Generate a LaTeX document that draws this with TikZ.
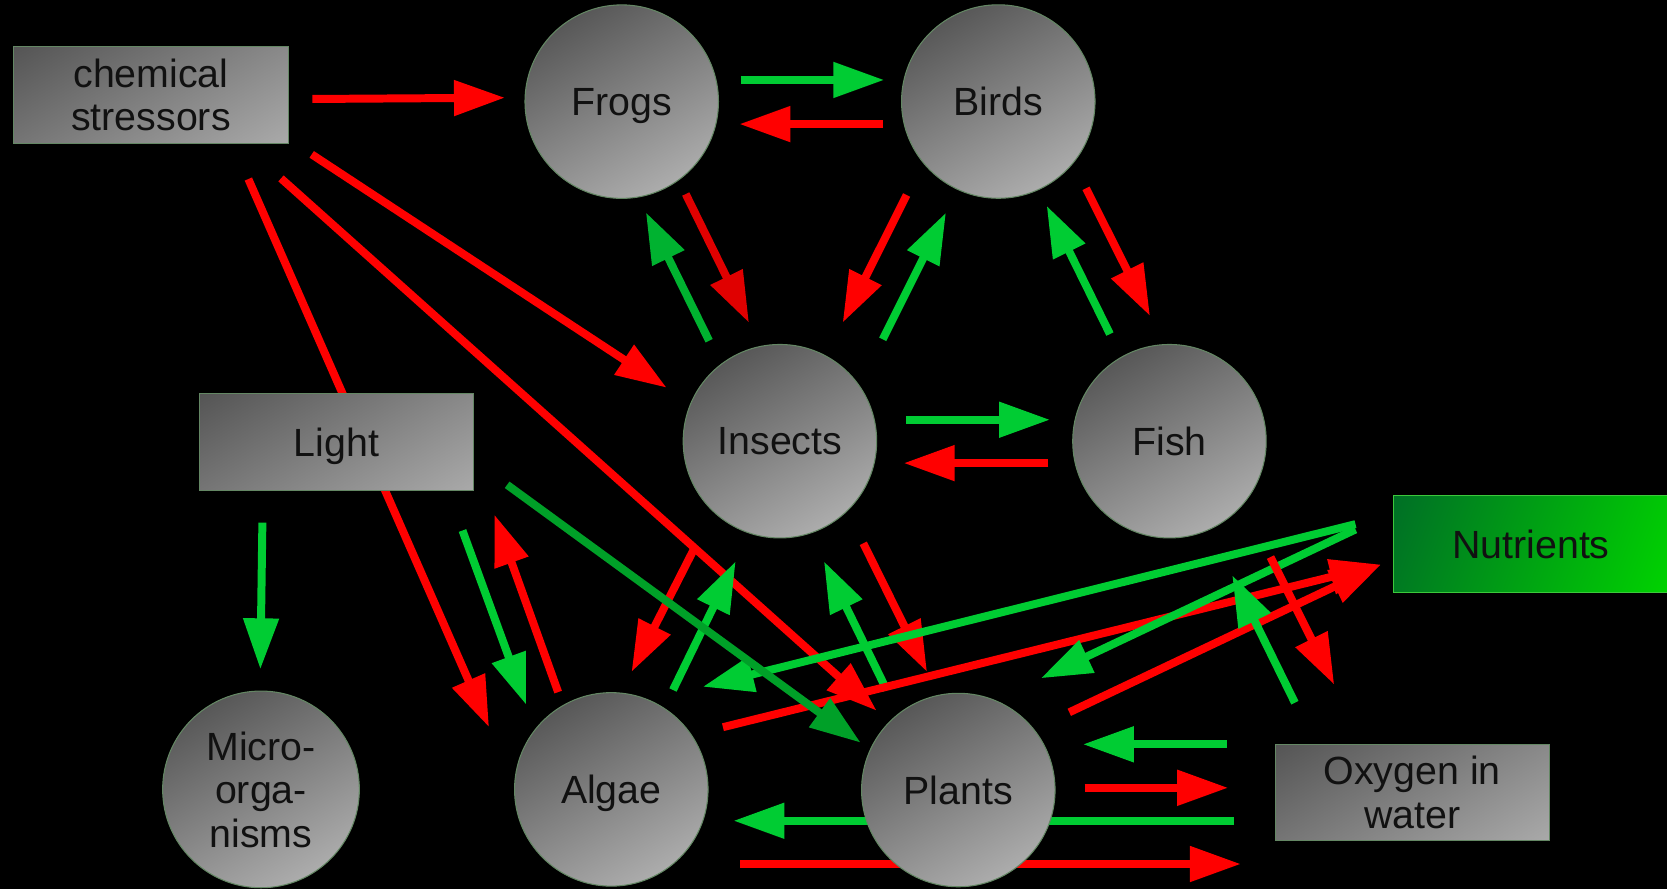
\documentclass[tikz,border=0pt]{standalone}
\usepackage{fontspec}
\setmainfont{Liberation Sans}
\usetikzlibrary{arrows.meta}
\definecolor{ared}{RGB}{255,0,0}
\definecolor{adred}{RGB}{224,0,0}
\definecolor{agreen}{RGB}{0,204,51}
\definecolor{adgreen}{RGB}{0,178,48}
\definecolor{alight}{RGB}{0,160,40}
\definecolor{nodeborder}{RGB}{100,135,100}
\definecolor{txt}{RGB}{17,17,17}
\definecolor{gdark}{RGB}{70,70,70}
\definecolor{glight}{RGB}{184,184,184}
\definecolor{ndark}{RGB}{0,110,38}
\definecolor{nlight}{RGB}{0,212,0}
\tikzset{
  arr/.style={line width=7.5pt, line cap=butt, -{Triangle[length=48pt,width=32pt]}},
  lbl/.style={text=txt, font=\fontsize{37pt}{41pt}\selectfont, align=center, text depth=0pt},
  greyball/.style={circle, minimum size=182pt, inner sep=0pt, draw=nodeborder, line width=1pt,
    top color={rgb,255:red,88;green,88;blue,88}, bottom color={rgb,255:red,172;green,172;blue,172},
    shading angle=30, lbl},
  greybox/.style={rectangle, minimum width=258pt, minimum height=91pt, inner sep=0pt, draw=nodeborder, line width=1pt, lbl,
    path picture={\shade[top color=gdark, bottom color=glight, shading angle=30]
      ([shift={(-140pt,-140pt)}]path picture bounding box.center) rectangle ++(280pt,280pt);}},
  greenbox/.style={rectangle, minimum width=258pt, minimum height=91pt, inner sep=0pt, draw={rgb,255:red,60;green,200;blue,60}, line width=1pt, lbl,
    path picture={\shade[top color=ndark, bottom color=nlight, shading angle=70]
      ([shift={(-140pt,-140pt)}]path picture bounding box.center) rectangle ++(280pt,280pt);}}
}
\newcommand\conn[4]{\coordinate (#1s) at (#3); \coordinate (#1e) at (#4); \draw[arr,#2] (#1s) -- (#1e);}
\begin{document}
\begin{tikzpicture}[x=1pt,y=-1pt]
\fill[black] (0,0) rectangle (1568,836);
\useasboundingbox (0,0) rectangle (1568,836);
% connectors
\conn{a1}{ared}{293.8,93.1}{475,91.9}
\conn{a2}{ared}{293.2,145.2}{627.1,364.7}
\conn{a3}{ared}{264.3,167.8}{824.6,668.5}
\conn{a4}{ared}{233.6,168.4}{460,684}
\conn{a5}{agreen}{696.7,75.2}{831.8,75.2}
\conn{a6}{ared}{830.6,116.7}{695.4,116.7}
\conn{a7}{adred}{645,182.5}{704.5,303.6}
\conn{a8}{adgreen}{667,320.5}{607.5,199.7}
\conn{a9}{ared}{852.8,183.4}{792.6,303.5}
\conn{a10}{agreen}{830.3,319.2}{889.8,200}
\conn{a11}{ared}{1021.5,177.1}{1081.7,297.2}
\conn{a12}{agreen}{1044,314.2}{984.5,193.5}
\conn{a13}{agreen}{852,394.8}{987.7,394.8}
\conn{a14}{ared}{986,435.6}{850,435.6}
\conn{a15}{agreen}{246.8,491.6}{244.9,629.6}
\conn{a16}{agreen}{435,499}{495,663}
\conn{a17}{ared}{525,651}{465,484}
\conn{a19}{ared}{654,514}{594,632}
\conn{a20}{agreen}{633,649}{692,528}
\conn{a21}{agreen}{834,649}{775,528}
\conn{a22}{ared}{812,511}{872,632}
\conn{a25}{ared}{680,684}{1299,531}
\conn{a26}{ared}{1005.8,670}{1299,531}
\conn{a23}{agreen}{1275,493}{661,646}
\conn{a24}{agreen}{1275,498}{979,638}
\conn{a27}{ared}{1195,524}{1255,644}
\conn{a28}{agreen}{1218,661}{1159,541}
\conn{a29}{agreen}{1153.8,700.1}{1018.5,700.1}
\conn{a30}{ared}{1020.2,741}{1155.3,741}
\conn{a31}{agreen}{1160.7,772}{689.8,772}
\conn{a32}{ared}{696.3,812.7}{1167.2,812.7}
\conn{a18}{alight}{477,456}{809.6,698.6}
% nodes
\node[greybox] (chem) at (142,89.1) {chemical\\stressors};
\node[greybox] (light) at (316.4,415.6) {Light};
\node[greybox] (oxygen) at (1328.3,745.4) {Oxygen in\\water};
\node[greenbox] (nutrients) at (1440,511.7) {Nutrients};
\node[greyball] (frogs) at (584.8,95.6) {Frogs};
\node[greyball] (birds) at (939,95.5) {Birds};
\node[greyball] (insects) at (733.6,415) {Insects};
\node[greyball] (fish) at (1100,415) {Fish};
\node[greyball, minimum size=185pt] (micro) at (245.5,742.5) {Micro-\\orga-\\nisms};
\node[greyball] (algae) at (575,742.5) {Algae};
\node[greyball] (plants) at (901.4,743.1) {Plants};
\end{tikzpicture}
\end{document}
